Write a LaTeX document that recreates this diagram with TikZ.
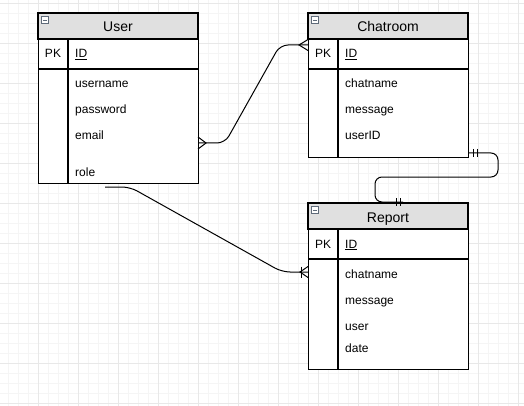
\documentclass[tikz,border=0pt]{standalone}
\usepackage{fontspec}
\setmainfont{Liberation Sans}
\usetikzlibrary{positioning}
\definecolor{headgray}{HTML}{E0E0E0}
\definecolor{gridmajor}{HTML}{E8E8E8}
\definecolor{gridminor}{HTML}{F5F5F5}
\definecolor{icongray}{HTML}{5F6B7A}

\begin{document}
\begin{tikzpicture}[x=1pt, y=-1pt,
    tablebox/.style={draw, line width=1.2pt, fill=white, inner sep=0pt, minimum width=160pt, anchor=north west},
    header/.style={draw, line width=1.2pt, fill=headgray},
    sep/.style={line width=1.2pt},
    title/.style={anchor=base, inner sep=0pt, font=\fontsize{14}{16}\selectfont},
    field/.style={anchor=base west, inner sep=0pt, font=\fontsize{12}{14}\selectfont},
    keyname/.style={anchor=base, inner sep=0pt, font=\fontsize{12}{14}\selectfont},
    conn/.style={line width=1pt, rounded corners=8pt},
    foot/.style={line width=1pt}
]
\useasboundingbox (0,0) rectangle (524,406);

% background grid
\foreach \x in {8,18,...,518} \draw[gridminor, line width=0.8pt] (\x,0) -- (\x,406);
\foreach \y in {3,13,...,403} \draw[gridminor, line width=0.8pt] (0,\y) -- (524,\y);
\foreach \x in {38,78,...,518} \draw[gridmajor, line width=0.8pt] (\x,0) -- (\x,406);
\foreach \y in {3,43,...,403} \draw[gridmajor, line width=0.8pt] (0,\y) -- (524,\y);

% User
\node[tablebox, minimum height=170pt] (user) at (38,13) {};
\draw[header] (38,13) rectangle (198,39);
\draw[sep] (38,69) -- (198,69);
\draw[sep] (68,39) -- (68,183);
\draw[icongray, fill=white, line width=0.6pt] (41.5,16.5) rectangle (48.5,23.5);
\draw[icongray, line width=0.8pt] (43,20) -- (47,20);
\node[title] (usertitle) at (118,32) {User};
\node[keyname] (userpk) at (53,58) {PK};
\node[field] (userid) at (75,58) {\underline{ID}};
\node[field] (username) at (75,88) {username};
\node[field] (password) at (75,114) {password};
\node[field] (email) at (75,140) {email};
\node[field] (role) at (75,176) {role};

% Chatroom
\node[tablebox, minimum height=144pt] (chatroom) at (308,13) {};
\draw[header] (308,13) rectangle (468,39);
\draw[sep] (308,69) -- (468,69);
\draw[sep] (338,39) -- (338,157);
\draw[icongray, fill=white, line width=0.6pt] (311.5,16.5) rectangle (318.5,23.5);
\draw[icongray, line width=0.8pt] (313,20) -- (317,20);
\node[title] (chattitle) at (388,32) {Chatroom};
\node[keyname] (chatpk) at (323,58) {PK};
\node[field] (chatid) at (345,58) {\underline{ID}};
\node[field] (chatname) at (345,88) {chatname};
\node[field] (chatmsg) at (345,114) {message};
\node[field] (chatuser) at (345,140) {userID};

% Report
\node[tablebox, minimum height=166pt] (report) at (308,203) {};
\draw[header] (308,203) rectangle (468,229);
\draw[sep] (308,259) -- (468,259);
\draw[sep] (338,229) -- (338,369);
\draw[icongray, fill=white, line width=0.6pt] (311.5,206.5) rectangle (318.5,213.5);
\draw[icongray, line width=0.8pt] (313,210) -- (317,210);
\node[title] (reporttitle) at (388,222) {Report};
\node[keyname] (reportpk) at (323,248) {PK};
\node[field] (reportid) at (345,248) {\underline{ID}};
\node[field] (reportchat) at (345,278) {chatname};
\node[field] (reportmsg) at (345,304) {message};
\node[field] (reportuser) at (345,330) {user};
\node[field] (reportdate) at (345,352) {date};

% connection points
\coordinate (userright) at (198,143);
\coordinate (chatleft) at (308,45);
\coordinate (userbottom) at (105,187);
\coordinate (reportleft) at (308,272);
\coordinate (chatright) at (468,153);
\coordinate (reporttop) at (403,202);

% User -- Chatroom (many to many)
\draw[conn] (userright) -- (225,143) -- (280,45) -- (chatleft);
\draw[foot] (198,137) -- (206,143) -- (198,149);
\draw[foot] (308,39.5) -- (299,45) -- (308,50.5);

% User -- Report (one or many)
\draw[conn] (userbottom) -- (130,187) -- (282,272) -- (reportleft);
\draw[foot] (308,266.5) -- (300,272) -- (308,277.5);
\draw[foot] (301.5,266.5) -- (301.5,277.5);

% Chatroom -- Report (one to one)
\draw[conn, rounded corners=7pt] (chatright) -- (498,153) -- (498,177) -- (375,177) -- (375,202) -- (reporttop);
\draw[foot] (473,149) -- (473,157);
\draw[foot] (477,149) -- (477,157);
\draw[foot] (396,198) -- (396,206);
\draw[foot] (400,198) -- (400,206);
\end{tikzpicture}
\end{document}
